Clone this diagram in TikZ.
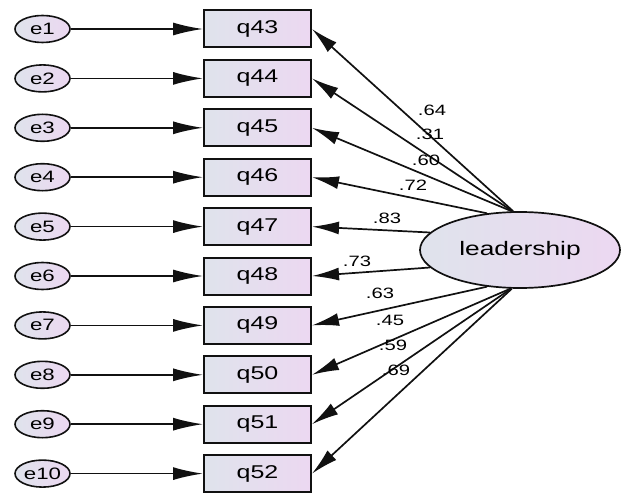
\documentclass[tikz,border=0pt]{standalone}
\usepackage{graphicx}
\usepackage{fontspec}
\setmainfont{Liberation Sans}
\usetikzlibrary{shapes.geometric,arrows.meta}
% horizontally widened text at a given size
\newcommand{\wtext}[2]{\scalebox{1.35}[1]{\fontsize{#1}{#1}\selectfont #2}}
\definecolor{lineink}{HTML}{111111}
\definecolor{shadeA}{HTML}{DFE3EC}
\definecolor{shadeB}{HTML}{ECD8F1}
\begin{document}
\begin{tikzpicture}[x=1pt,y=-1pt,
  errv/.style={ellipse, draw=lineink, line width=1.6pt, minimum width=55pt,
    minimum height=27pt, inner sep=0pt, left color=shadeA, right color=shadeB},
  obsv/.style={rectangle, draw=lineink, line width=2pt, minimum width=107pt,
    minimum height=37pt, inner sep=0pt, left color=shadeA, right color=shadeB},
  latv/.style={ellipse, draw=lineink, line width=1.7pt, minimum width=200pt,
    minimum height=76pt, inner sep=0pt, left color=shadeA, right color=shadeB},
  regpath/.style={draw=lineink, line width=1.7pt, -{Latex[length=27pt,width=13pt]}},
  errpath/.style={draw=lineink, line width=1.7pt, -{Latex[length=30pt,width=13pt]}},
  coef/.style={inner sep=0pt}]
\useasboundingbox (0,0) rectangle (623,494);

% latent factor
\node[latv] (lead) at (520,250) {\wtext{19.5}{leadership}};

% indicators with their error terms
\foreach \i [evaluate=\i as \yy using 29+49.4*(\i-1),
             evaluate=\i as \qq using int(42+\i)] in {1,...,10} {
  \node[errv] (e\i) at (42.5,\yy) {\wtext{16.5}{e\i}};
  \node[obsv] (q\i) at (257.5,\yy) {\wtext{18.5}{q\qq}};
  \draw[errpath] (e\i) -- (q\i);
}

% factor loadings
\foreach \i/\a in {1/100,2/101,3/102,4/132,5/169,6/191,7/228,8/256,9/257,10/258} {
  \draw[regpath] (lead.\a) -- (q\i.east);
}

% loading values
\node[coef] (c1)  at (432,110) {\wtext{15}{.64}};
\node[coef] (c2)  at (430,134) {\wtext{15}{.31}};
\node[coef] (c3)  at (426,160) {\wtext{15}{.60}};
\node[coef] (c4)  at (413,185) {\wtext{15}{.72}};
\node[coef] (c5)  at (387,218) {\wtext{15}{.83}};
\node[coef] (c6)  at (357,261) {\wtext{15}{.73}};
\node[coef] (c7)  at (380,293) {\wtext{15}{.63}};
\node[coef] (c8)  at (390,320) {\wtext{15}{.45}};
\node[coef] (c9)  at (393,345) {\wtext{15}{.59}};
\node[coef] (c10) at (396,370) {\wtext{15}{.69}};
\end{tikzpicture}
\end{document}
